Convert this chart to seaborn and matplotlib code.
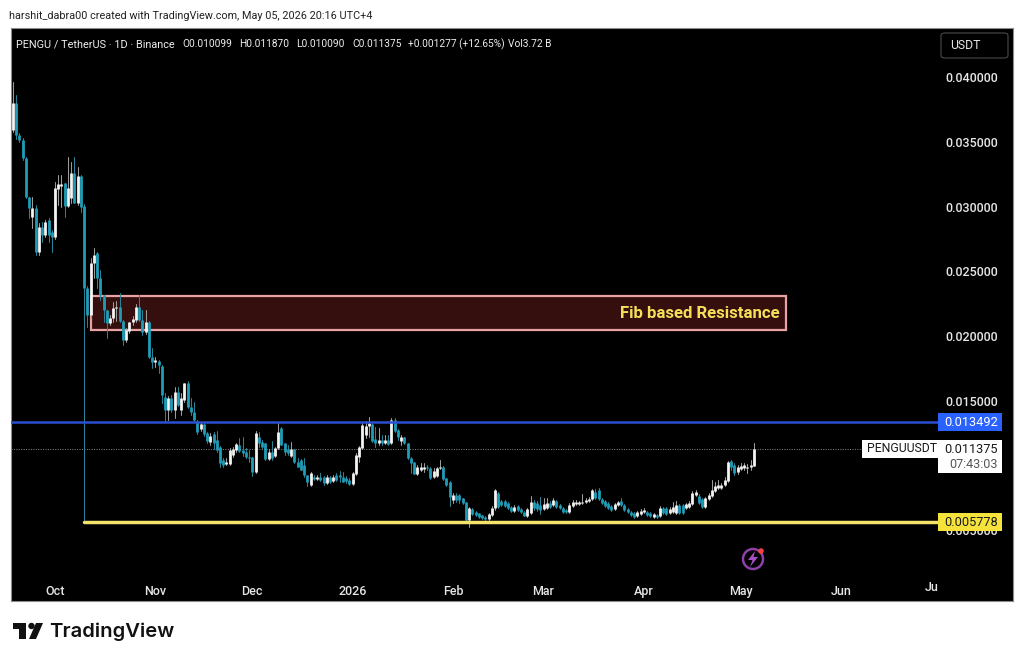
import pandas as pd
import matplotlib
matplotlib.use("Agg")
import matplotlib.pyplot as plt
import matplotlib.dates as mdates
from matplotlib.patches import Rectangle, FancyBboxPatch, Circle, Polygon
import seaborn as sns

# prices below are in thousandths of a USDT
first_day = "2025-09-18"

opens = [36.06,38.15,35.67,35.29,33.89,30.88,29.33,30.03,26.63,28.56,
    27.94,29.10,28.17,27.79,31.50,31.73,31.96,30.18,30.80,32.73,
    30.41,32.50,30.18,23.85,21.76,25.78,26.55,24.62,23.30,22.14,
    21.14,21.52,22.30,22.38,21.29,19.82,20.52,21.22,21.37,22.38,
    21.37,20.44,21.22,18.51,18.12,18.20,17.81,15.42,14.41,15.34,
    14.41,15.81,14.41,15.19,16.50,14.65,14.26,13.56,12.94,13.33,
    12.64,11.94,12.56,12.09,11.55,10.55,10.24,10.24,10.94,11.32,
    11.71,11.32,11.17,10.78,10.78,9.62,12.33,11.94,11.86,10.63,
    11.17,10.86,11.48,13.02,11.86,11.40,10.86,11.40,10.39,10.55,
    10.16,9.39,8.62,9.23,9.08,9.23,9.23,8.77,9.23,8.92,
    9.39,9.39,9.23,9.16,9.00,8.69,9.47,10.78,11.48,12.48,
    13.18,13.33,12.17,11.86,12.09,11.86,12.09,11.86,13.64,12.87,
    12.02,12.33,11.86,10.70,10.39,9.47,9.78,9.85,10.01,9.93,
    9.23,9.31,9.93,10.01,9.16,8.85,7.46,7.84,7.84,7.61,
    7.30,5.91,6.76,6.53,6.45,6.30,6.14,5.99,6.30,6.84,
    7.99,7.38,7.38,7.23,6.91,6.61,7.00,6.76,6.53,6.22,
    6.45,7.30,7.23,7.07,6.76,6.84,7.23,7.07,7.38,7.07,
    6.84,6.68,6.53,7.00,7.15,7.15,7.23,7.30,7.38,7.53,
    8.07,8.23,7.53,7.38,7.23,7.00,6.76,7.07,7.38,7.07,
    6.76,6.53,6.45,6.22,6.38,6.53,6.53,6.45,6.14,6.30,
    6.22,6.84,6.84,6.45,6.53,6.45,7.07,7.07,6.84,6.91,
    7.15,7.84,7.77,7.53,6.91,7.53,7.77,8.15,8.38,8.38,
    8.62,8.92,10.47,10.16,9.62,9.85,9.93,9.93,10.01,10.099]

highs = [39.77,38.76,35.83,35.44,33.97,30.88,30.88,30.26,28.87,28.95,
    29.10,29.26,28.33,32.04,32.58,32.58,31.96,33.97,33.58,33.97,
    33.20,32.58,30.34,24.00,26.16,26.94,26.63,25.24,23.30,22.14,
    21.76,22.77,22.84,23.46,21.37,20.75,21.22,21.68,22.61,23.30,
    22.14,22.14,21.29,19.21,18.51,18.28,17.89,15.73,15.50,15.57,
    16.16,16.16,15.73,16.50,16.66,15.34,15.03,13.64,13.49,13.49,
    12.71,12.64,12.71,12.79,11.63,10.71,10.71,11.48,11.55,11.86,
    12.25,12.33,11.48,11.32,10.78,12.79,12.71,12.09,11.86,11.40,
    12.02,11.55,13.49,13.10,11.86,11.71,11.94,11.40,10.71,10.63,
    10.71,9.39,9.62,9.39,9.39,9.54,9.31,9.39,9.31,9.39,
    9.54,9.70,9.62,9.31,9.16,9.62,11.09,11.63,13.41,13.56,
    13.87,13.41,13.10,13.02,12.48,12.48,12.48,13.80,13.80,12.94,
    12.48,12.33,11.86,10.78,10.39,10.16,10.32,10.32,10.16,10.01,
    9.93,10.01,10.55,10.09,9.16,8.92,7.99,7.99,7.92,7.61,
    7.30,6.91,6.84,6.61,6.45,6.30,6.22,6.45,7.00,8.31,
    8.07,7.46,7.46,7.30,7.00,7.07,7.07,6.84,6.61,6.84,
    7.77,7.46,7.38,7.69,7.61,7.61,7.38,7.61,7.46,7.15,
    6.91,6.76,7.23,7.46,7.46,7.38,7.92,7.61,7.69,8.31,
    8.31,8.38,7.61,7.46,7.30,7.07,7.23,7.38,7.61,7.15,
    6.84,6.61,6.53,6.61,6.76,6.84,6.61,6.53,6.45,6.38,
    7.00,6.91,6.91,6.91,7.30,7.38,7.15,7.15,7.23,7.38,
    8.15,8.23,7.92,7.61,7.69,7.99,9.00,8.85,9.00,8.77,
    9.23,10.47,10.55,10.32,10.16,10.32,10.32,10.24,10.55,11.87]

lows = [35.90,35.37,35.13,33.74,30.80,29.26,28.48,26.40,26.40,27.40,
    27.79,27.40,26.63,27.63,30.26,30.11,29.33,30.11,30.41,30.41,
    30.26,29.72,5.778,20.83,21.52,24.62,23.85,22.92,21.22,19.98,
    20.98,21.22,21.29,21.22,19.44,19.67,20.37,20.98,21.22,21.29,
    20.21,20.29,18.43,17.66,17.74,17.27,14.96,13.49,13.64,14.26,
    13.80,14.72,14.03,15.03,14.57,14.03,13.49,12.56,12.79,12.41,
    11.86,11.71,11.40,11.17,10.01,10.01,10.16,10.16,10.78,11.17,
    11.17,10.86,10.70,10.39,9.31,9.54,11.55,11.48,10.55,10.55,
    10.55,10.78,11.40,11.71,10.94,10.94,10.78,10.32,10.01,9.78,
    9.23,8.54,8.54,9.00,9.00,8.92,8.62,8.69,8.77,8.85,
    8.92,8.85,8.85,8.77,8.62,8.62,9.39,10.39,11.40,12.25,
    12.33,11.94,11.55,11.71,11.71,11.79,11.71,11.79,12.71,12.09,
    11.71,11.79,10.63,9.54,9.47,9.39,9.70,9.62,9.78,9.08,
    9.16,9.23,9.85,9.00,8.54,7.00,7.23,7.30,7.23,7.15,
    5.83,5.37,6.30,6.22,6.07,5.99,5.91,5.91,6.22,6.68,
    6.84,7.00,6.91,6.76,6.53,6.53,6.61,6.45,6.22,6.14,
    6.38,6.68,6.61,6.38,6.68,6.76,6.84,7.00,6.84,6.76,
    6.45,6.45,6.45,6.91,7.07,7.07,7.15,7.23,7.30,7.46,
    7.53,7.46,7.15,6.91,6.76,6.61,6.68,7.00,7.00,6.61,
    6.45,6.22,6.07,6.14,6.30,6.45,6.22,6.14,6.07,6.07,
    6.14,6.38,6.30,6.38,6.45,6.38,6.38,6.38,6.76,6.84,
    7.07,7.77,7.15,6.84,6.84,7.46,7.69,8.07,8.31,8.31,
    8.54,8.85,9.78,9.39,9.47,9.78,9.78,9.54,9.78,10.09]

closes = [38.15,35.67,35.29,33.89,30.88,30.03,30.03,26.63,28.56,27.94,
    28.95,27.94,27.79,31.57,31.88,31.88,30.18,31.57,32.73,30.41,
    32.50,30.11,23.85,21.76,25.78,26.40,24.62,23.30,22.14,21.14,
    21.52,22.30,22.38,21.29,19.82,20.60,21.22,21.45,22.38,21.37,
    20.44,21.22,18.51,18.12,18.28,17.89,15.57,14.41,15.34,14.41,
    15.81,14.80,15.34,16.50,14.65,14.26,13.64,12.71,13.33,12.56,
    12.02,12.41,11.86,11.32,10.32,10.16,10.39,11.32,11.40,11.79,
    11.24,11.09,10.78,10.70,9.62,12.64,11.86,11.55,10.63,11.17,
    10.70,11.48,12.71,11.71,11.17,11.09,11.40,10.39,10.01,9.78,
    9.39,8.85,9.54,9.08,9.23,9.00,8.77,9.23,8.85,9.23,
    9.00,9.23,8.85,8.92,8.69,9.54,10.94,11.55,13.25,13.18,
    13.41,12.02,11.86,12.09,11.86,12.09,11.79,13.64,12.79,12.33,
    12.33,11.86,10.70,10.32,9.47,10.01,10.01,10.01,9.93,9.16,
    9.70,9.93,10.01,9.08,8.62,7.69,7.84,7.46,7.46,7.23,
    5.91,6.83,6.38,6.30,6.14,6.07,5.99,6.38,6.84,8.23,
    6.91,7.07,7.00,6.84,6.61,6.91,6.68,6.53,6.22,6.76,
    7.30,6.84,6.76,6.68,7.15,7.23,6.91,7.46,6.91,6.84,
    6.53,6.53,7.07,7.30,7.30,7.30,7.30,7.46,7.53,8.23,
    7.61,7.53,7.23,7.00,6.84,6.68,7.15,7.30,7.07,6.68,
    6.53,6.30,6.14,6.53,6.61,6.68,6.30,6.22,6.38,6.14,
    6.84,6.45,6.38,6.76,6.91,7.07,6.45,6.45,7.15,7.23,
    7.99,8.07,7.23,6.91,7.61,7.84,8.23,8.54,8.62,8.62,
    9.00,10.39,10.01,9.54,10.01,10.09,10.16,10.01,10.16,11.375]

price_ticks = [0.040, 0.035, 0.030, 0.025, 0.020, 0.015, 0.005]
month_days = ["2025-10-01", "2025-11-01", "2025-12-01", "2026-01-01", "2026-02-01",
              "2026-03-01", "2026-04-01", "2026-05-01", "2026-06-01"]
month_labels = ["Oct", "Nov", "Dec", "2026", "Feb", "Mar", "Apr", "May", "Jun"]

resistance_low, resistance_high = 0.0206, 0.0232
resistance_from, resistance_to = "2025-10-12", "2026-05-15"
blue_level = 0.013492
yellow_level = 0.005778
last_price = 0.011375

TEAL = "#1f9db8"
TEAL_WICK = "#2b8197"
WHITE = "#f4f4f4"
WHITE_WICK = "#9c9c9c"

sns.set_theme(style="dark", rc={"axes.facecolor": "black", "figure.facecolor": "white"})
plt.rcParams["font.family"] = ["Roboto", "DejaVu Sans"]

W, H = 1024, 663
fig = plt.figure(figsize=(W / 100, H / 100), dpi=100)
L, R, T, B = 11, 1013, 28, 600.5
ax = fig.add_axes([L / W, 1 - B / H, (R - L) / W, (B - T) / H])

df = pd.DataFrame({"date": pd.date_range(first_day, periods=len(closes)),
                   "open": opens, "high": highs, "low": lows, "close": closes})
df[["open", "high", "low", "close"]] /= 1000
df["up"] = df["close"] >= df["open"]
df["candle"] = range(len(df))

wicks = df.melt(id_vars=["date", "up", "candle"], value_vars=["high", "low"], value_name="price")
bodies = df.melt(id_vars=["date", "up", "candle"], value_vars=["open", "close"], value_name="price")

sns.lineplot(data=wicks, x="date", y="price", hue="up", units="candle", estimator=None,
             palette={True: WHITE_WICK, False: TEAL_WICK}, lw=0.75, legend=False, ax=ax, zorder=3)
sns.lineplot(data=bodies, x="date", y="price", hue="up", units="candle", estimator=None,
             palette={True: WHITE, False: TEAL}, lw=2.0, legend=False, ax=ax, zorder=4,
             solid_capstyle="butt")

day0 = pd.Timestamp("2025-10-01")
ax.set_xlim(day0 + pd.Timedelta(days=-13.6), day0 + pd.Timedelta(days=296.1))
ax.set_ylim(-0.00033, 0.04394)
ax.set_xlabel("")
ax.set_ylabel("")
ax.set_yticks([])
ax.set_xticks(pd.to_datetime(month_days))
ax.set_xticklabels(month_labels)
ax.tick_params(axis="x", direction="in", pad=-11, length=0, labelsize=9, labelcolor="#e6e6e6")
for lab in ax.get_xticklabels():
    lab.set_fontweight("medium")
ax.grid(False)
for s in ax.spines.values():
    s.set_color("#8c8c8c")
    s.set_linewidth(0.8)

# clipped July label next to the price scale
ax.text(pd.Timestamp("2026-07-01"), 0.00066, "Ju", color="#e6e6e6", fontsize=9, fontweight="medium",
        ha="right", va="center")

# zone and levels
x0 = mdates.date2num(pd.Timestamp(resistance_from))
x1 = mdates.date2num(pd.Timestamp(resistance_to))
ax.add_patch(Rectangle((x0, resistance_low), x1 - x0, resistance_high - resistance_low,
                       fc="#350e0e", ec="#eaa3a3", lw=1.6, zorder=2))
ax.text(x1 - 2, (resistance_low + resistance_high) / 2, "Fib based Resistance", color="#f6e05a",
        fontsize=12.1, fontweight="bold", ha="right", va="center", zorder=6)

scale_x = day0 + pd.Timedelta(days=273)
ax.plot([ax.get_xlim()[0], mdates.date2num(scale_x)], [blue_level, blue_level], color="#2a4fd0", lw=1.8, zorder=5)
ax.plot([x0 - 2, mdates.date2num(scale_x)], [yellow_level, yellow_level], color="#f3e36a", lw=2.5, zorder=5)
ax.plot([ax.get_xlim()[0], mdates.date2num(day0 + pd.Timedelta(days=250))], [last_price, last_price],
        color="#8a8a8a", lw=0.7, ls=(0, (1, 1.5)), zorder=1)

# price scale labels
for p in price_ticks:
    ax.text(0.985, p, f"{p:.6f}", transform=ax.get_yaxis_transform(), color="#e6e6e6", fontsize=9,
            ha="right", va="center", fontweight="medium", zorder=2)


def px_box(x0, y0, x1, y1, color, ec="none", rounded=False, zorder=8):
    if rounded:
        p = FancyBboxPatch((x0 / W, 1 - y1 / H), (x1 - x0) / W, (y1 - y0) / H, transform=fig.transFigure,
                           boxstyle="round,pad=0,rounding_size=0.004", fc=color, ec=ec, lw=0.8, zorder=zorder)
    else:
        p = Rectangle((x0 / W, 1 - y1 / H), (x1 - x0) / W, (y1 - y0) / H, transform=fig.transFigure,
                      fc=color, ec=ec, lw=0.8, zorder=zorder)
    fig.add_artist(p)


def px_text(x, y, s, ha="left", color="black", size=9, weight="normal"):
    fig.text(x / W, 1 - y / H, s, ha=ha, va="center", color=color, fontsize=size, fontweight=weight, zorder=9)


px_box(938, 413, 1002, 431, "#2962ff")
px_text(998, 422, f"{blue_level:.6f}", "right", "white", size=9.2)
px_box(862, 440, 938, 458, "white")
px_text(867, 449, "PENGUUSDT", color="#1a1a1a", size=8.8)
px_box(938, 440, 1002, 473, "white")
px_text(998, 449.5, f"{last_price:.6f}", "right", "#1a1a1a", size=9.2)
px_text(998, 464, "07:43:03", "right", "#555555")
px_box(938, 513, 1002, 531, "#f5e33c")
px_text(998, 522, f"{yellow_level:.6f}", "right", "#1a1a1a", size=9.2)

# currency button
px_box(941, 33, 1008, 58, "black", ec="#4a4a4a", rounded=True, zorder=3)
px_text(965, 45.5, "USDT", "center", "#e6e6e6", size=8.8)

# header lines
px_text(9, 16, "harshit_dabra00 created with TradingView.com, May 05, 2026 20:16 UTC+4", color="#222222", size=7.85)
px_text(16, 44, "PENGU / TetherUS · 1D · Binance", color="#eeeeee", size=7.85)
for x, s in [(182, "O0.010099"), (239, "H0.011870"), (296, "L0.010090"), (352, "C0.011375"),
             (408, "+0.001277 (+12.65%)"), (508, "Vol3.72 B")]:
    px_text(x, 44, s, color="#eeeeee", size=7.3)

# lightning badge and logo, drawn in picture pixels
cx, cy = 753, 559
ax_icon = fig.add_axes([0, 0, 1, 1], zorder=7)
ax_icon.set_xlim(0, W)
ax_icon.set_ylim(H, 0)
ax_icon.axis("off")
ax_icon.patch.set_alpha(0)
ax_icon.add_patch(Circle((cx, cy), 10, fc="none", ec="#8e3fa8", lw=1.8))
ax_icon.add_patch(Polygon([(755, 551), (748, 560), (752.5, 560), (750, 567), (758, 557), (753.5, 557)], fc="#a64fc4", ec="none"))
ax_icon.add_patch(Circle((761, 551), 2.8, fc="#f04040", ec="none"))

ax_icon.add_patch(Polygon([(13, 623), (26, 623), (26, 639), (19, 639), (19, 629), (13, 629)], fc="#111111", ec="none"))
ax_icon.add_patch(Circle((31.5, 626), 3.2, fc="#111111", ec="none"))
ax_icon.add_patch(Polygon([(36, 623), (43, 623), (36, 639), (29, 639)], fc="#111111", ec="none"))
ax_icon.text(49.5, 632, "TradingView", fontsize=14.6, fontweight="semibold", color="#111111", va="center", family="Inter")

fig.savefig("out.png", dpi=100, facecolor="white")
